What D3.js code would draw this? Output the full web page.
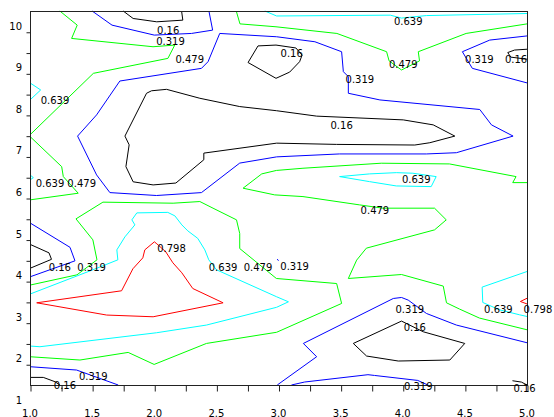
<!DOCTYPE html>
<html><head><meta charset="utf-8">
<script src="https://cdn.jsdelivr.net/npm/d3@7"></script>
<style>html,body{margin:0;padding:0;background:#fff;}svg{display:block;}</style>
</head><body>
<svg id="chart" width="554" height="417"></svg>
<script>
// ---- data (data units) ----
const levels = [0.16, 0.319, 0.479, 0.639, 0.798];

const lines016 = [
  [[1.75,10.5],[1.83,10.32],[2.02,10.24],[2.23,10.28],[2.22,10.5]],
  [[2.98,9.68],[2.835,9.66],[2.755,9.26],[2.98,8.88],[3.09,9.03],[3.17,9.28],[3.19,9.44],[3.14,9.61],[2.98,9.68]],
  [[5.0,9.58],[4.90,9.56],[4.845,9.50],[4.87,9.39],[5.0,9.34]],
  [[2.985,8.10],[3.307,7.97],[4.004,7.88],[4.245,7.76],[4.419,7.49],[4.218,7.33],[4.097,7.275],[3.468,7.29],[2.985,7.32],[2.399,7.08],[2.399,6.92],[2.174,6.36],[1.991,6.315],[1.83,6.39],[1.772,6.755],[1.798,7.28],[1.764,7.49],[1.938,8.52],[1.978,8.58],[2.099,8.615],[2.367,8.40],[2.688,8.20],[2.985,8.10]],
  [[1.0,4.885],[1.153,4.68],[1.173,4.524],[1.0,4.308]],
  [[1.0,1.683],[1.107,1.683],[1.201,1.579],[1.241,1.5]],
  [[3.602,2.5],[3.99,3.038],[4.165,2.781],[4.499,2.5],[4.379,2.101],[3.964,2.077],[3.709,2.197],[3.602,2.5]],
  [[4.883,1.603],[4.955,1.57],[5.0,1.5]]
];
const lines0319 = [
  [[1.50,10.5],[1.66,10.16],[2.00,9.92],[2.30,9.96],[2.47,10.04],[2.44,10.5]],
  [[5.0,9.90],[4.70,9.80],[4.48,9.52],[4.56,9.12],[5.0,8.77]],
  [[2.985,9.88],[3.293,9.76],[3.508,9.52],[3.522,9.04],[3.562,8.92],[3.562,8.52],[3.816,8.36],[4.62,8.13],[4.714,7.76],[4.888,7.49],[4.432,7.09],[4.19,7.06],[3.49,7.06],[2.985,6.99],[2.688,6.84],[2.38,6.13],[2.018,6.06],[1.643,6.13],[1.536,6.555],[1.383,7.49],[1.536,8.0],[1.723,8.815],[2.38,9.12],[2.433,9.28],[2.527,9.96],[2.985,9.88]],
  [[1.0,5.401],[1.322,4.813],[1.362,4.488],[1.0,4.103]],
  [[1.0,1.94],[1.375,1.86],[1.71,1.5]],
  [[2.99,1.5],[3.307,2.18],[3.2,2.5],[3.924,3.582],[3.99,3.606],[4.044,3.543],[4.191,3.221],[4.432,2.942],[5.0,2.517]],
  [[3.104,1.5],[3.211,1.572],[3.72,1.748],[3.773,1.73],[4.121,1.61],[4.202,1.5]],
  [[2.99,4.53],[3.0,4.49]]
];
const lines0479 = [
  [[1.24,10.5],[1.38,10.16],[1.335,9.84],[1.99,9.64],[2.165,9.68],[2.11,9.36],[1.51,9.0],[1.0,7.52]],
  [[2.66,10.5],[2.69,10.19],[2.98,10.12],[3.47,9.96],[3.87,9.52],[3.89,9.30],[3.99,9.08],[4.135,9.30],[4.125,9.52],[4.51,9.96],[5.0,10.19]],
  [[1.0,7.48],[1.255,6.755],[1.268,6.515],[1.388,6.115],[1.0,5.955]],
  [[5.0,6.37],[4.885,6.37],[4.912,6.515],[4.376,6.82],[3.827,6.837],[3.197,6.716],[2.983,6.663],[2.865,6.58],[2.715,6.236],[2.969,6.075],[3.197,6.034],[3.653,5.834],[3.84,5.755],[4.256,5.755],[4.35,5.474],[4.256,5.233],[3.707,4.793],[3.629,4.505],[3.562,4.063],[3.99,4.159],[4.326,3.88],[4.352,3.478],[4.457,3.327],[4.617,3.111],[5.0,2.829]],
  [[1.0,3.904],[1.378,4.151],[1.539,4.512],[1.506,4.993],[1.37,5.498],[1.587,5.9],[2.152,5.875],[2.367,5.915],[2.473,5.755],[2.662,5.474],[2.688,5.144],[2.688,4.784],[2.983,4.063],[3.468,3.942],[3.508,3.462],[2.985,2.769],[2.42,2.5],[1.999,1.995],[1.79,2.284],[1.402,2.101],[1.0,2.18]]
];
const lines0639 = [
  [[2.89,10.5],[2.985,10.38],[3.9,10.40],[3.99,10.33],[4.19,10.39],[5.0,10.44]],
  [[1.0,8.77],[1.086,8.60],[1.0,8.36]],
  [[1.0,6.555],[1.027,6.49],[1.0,6.435]],
  [[3.492,6.515],[3.733,6.58],[3.948,6.61],[4.081,6.596],[4.269,6.515],[4.229,6.274],[3.948,6.29],[3.733,6.394],[3.492,6.515]],
  [[1.0,3.688],[1.506,4.272],[1.707,4.512],[1.699,4.752],[1.764,5.065],[1.844,5.353],[1.82,5.474],[1.86,5.642],[2.109,5.654],[2.166,5.57],[2.222,5.353],[2.27,5.209],[2.35,5.029],[2.407,4.752],[2.439,4.512],[2.501,4.272],[2.985,3.623],[3.08,3.502],[2.985,3.37],[2.42,2.942],[2.018,2.757],[1.08,2.421],[1.0,2.4375]],
  [[5.0,4.231],[4.639,3.856],[4.644,3.486],[4.778,3.31],[4.939,3.19],[5.0,3.149]]
];
const lines0798 = [
  [[1.054,3.478],[1.737,3.767],[1.828,4.296],[1.908,4.56],[1.924,4.752],[2.001,4.945],[2.021,4.897],[2.093,4.704],[2.15,4.44],[2.222,4.2],[2.31,3.822],[2.554,3.478],[1.991,3.142],[1.617,3.183],[1.054,3.478]],
  [[5.0,3.587],[4.947,3.51],[5.0,3.45]]
];

// contour label anchors: [level, x, y]
const contourLabels = [
  [0.16,2.112,10.04],[0.319,2.131,9.76],[0.479,2.286,9.337],[0.639,4.044,10.24],
  [0.16,3.106,9.48],[0.479,4.004,9.224],[0.319,3.655,8.863],[0.319,4.617,9.337],
  [0.16,4.912,9.337],[0.639,1.201,8.358],[0.16,3.508,7.757],[0.639,1.161,6.356],
  [0.479,1.416,6.356],[0.639,4.109,6.452],[0.479,3.776,5.69],[0.798,2.139,4.784],
  [0.16,1.24,4.327],[0.319,1.496,4.327],[0.639,2.554,4.327],[0.479,2.835,4.327],
  [0.319,3.13,4.36],[0.319,4.057,3.317],[0.16,4.097,2.885],[0.639,4.77,3.31],
  [0.798,5.088,3.31],[0.319,1.509,1.70],[0.16,1.281,1.483],[0.319,4.125,1.459],
  [0.16,4.98,1.418]
];

const xDomain = [1, 5];
const yDomain = [1.5, 10.5];
const xTickValues = [1,1.25,1.5,1.75,2,2.25,2.5,2.75,3,3.25,3.5,3.75,4,4.25,4.5,4.75,5];
const xLabelValues = [1,1.5,2,2.5,3,3.5,4,4.5,5];
const xTickLabels = ["1.0","1.5","2.0","2.5","3.0","3.5","4.0","4.5","5.0"];
const yTickValues = [2,2.5,3,3.5,4,4.5,5,5.5,6,6.5,7,7.5,8,8.5,9,9.5,10];
const yLabelValues = [1,2,3,4,5,6,7,8,9,10];
const yTickLabels = ["1","2","3","4","5","6","7","8","9","10"];

// ---- styles ----
const levelColors = ["#000000", "#0000ff", "#00ff00", "#00ffff", "#ff0000"];
const levelLines = [lines016, lines0319, lines0479, lines0639, lines0798];
const FONT = "DejaVu Sans, Verdana, sans-serif";

const svg = d3.select("#chart");
svg.append("rect").attr("width", 554).attr("height", 417).attr("fill", "#fff");

const x = d3.scaleLinear().domain(xDomain).range([30, 527]);
const y = d3.scaleLinear().domain(yDomain).range([385, 11]);

const line = d3.line().x(d => x(d[0])).y(d => y(d[1]));

// contours
levels.forEach((lv, i) => {
  svg.append("g").selectAll("path").data(levelLines[i]).join("path")
    .attr("d", line)
    .attr("fill", "none")
    .attr("stroke", levelColors[i])
    .attr("stroke-width", 1)
    .attr("stroke-linejoin", "round");
});

// frame
svg.append("rect")
  .attr("x", x(xDomain[0]) + 0.5).attr("y", y(yDomain[1]) + 0.5)
  .attr("width", x(xDomain[1]) - x(xDomain[0]))
  .attr("height", y(yDomain[0]) - y(yDomain[1]))
  .attr("fill", "none").attr("stroke", "#222").attr("stroke-width", 1);

// axes ticks
const xAxis = d3.axisBottom(x).tickValues(xTickValues).tickSize(6).tickFormat("");
const gx = svg.append("g").attr("transform", `translate(0.5,${y(yDomain[0]) + 0.5})`).call(xAxis);
gx.select(".domain").remove();
gx.selectAll("line").attr("stroke", "#222");

const yAxis = d3.axisLeft(y).tickValues(yTickValues).tickSize(4).tickFormat("");
const gy = svg.append("g").attr("transform", `translate(${x(xDomain[0]) + 0.5},0.5)`).call(yAxis);
gy.select(".domain").remove();
gy.selectAll("line").attr("stroke", "#222");

// tick labels
svg.append("g").selectAll("text").data(xLabelValues).join("text")
  .attr("x", d => x(d))
  .attr("y", 416.5)
  .attr("text-anchor", "middle")
  .attr("font-family", FONT).attr("font-size", 10).attr("fill", "#000")
  .text((d, i) => xTickLabels[i]);

svg.append("g").selectAll("text").data(yLabelValues).join("text")
  .attr("x", 22)
  .attr("y", d => y(d) - 2)
  .attr("text-anchor", "end")
  .attr("font-family", FONT).attr("font-size", 10).attr("fill", "#000")
  .text((d, i) => yTickLabels[i]);

// contour labels
svg.append("g").selectAll("text").data(contourLabels).join("text")
  .attr("x", d => x(d[1]))
  .attr("y", d => y(d[2]) + 3.6)
  .attr("text-anchor", "middle")
  .attr("font-family", FONT).attr("font-size", 10).attr("fill", "#000")
  .text(d => String(d[0]));
</script>
</body></html>
